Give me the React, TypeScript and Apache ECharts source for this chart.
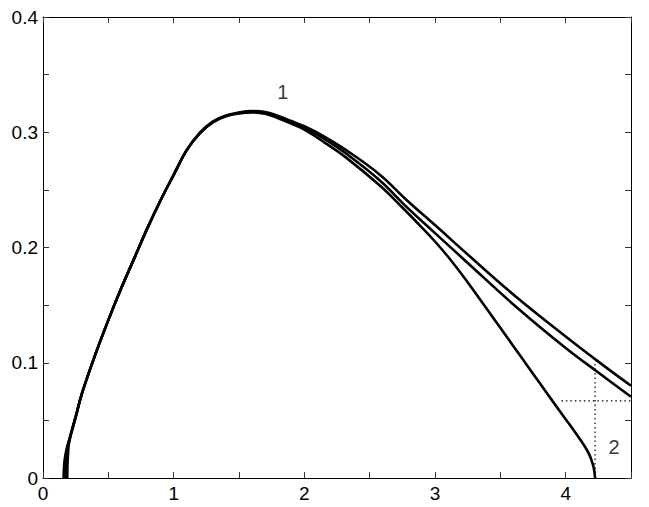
import React, { useEffect, useRef } from 'react';
import * as echarts from 'echarts';

// Curve 1 (two branches that stay above zero up to x = 4.5)
const curveUpper: number[][] = [
  [0.186, 0], [0.187, 0.01], [0.191, 0.02], [0.2, 0.031], [0.25, 0.053], [0.3, 0.074],
  [0.4, 0.107], [0.5, 0.137], [0.6, 0.165], [0.7, 0.191], [0.8, 0.217], [0.9, 0.241],
  [1.0, 0.263], [1.1, 0.2845], [1.2, 0.2995], [1.3, 0.3092], [1.4, 0.3145], [1.5, 0.3172],
  [1.6, 0.3183], [1.7, 0.3176], [1.8, 0.3142], [1.9, 0.3098], [2.0, 0.3052], [2.15, 0.2965],
  [2.32, 0.2845], [2.58, 0.263], [2.78, 0.2415], [3.0, 0.2195], [3.24, 0.195], [3.62, 0.1573],
  [4.0, 0.1228], [4.25, 0.101], [4.5, 0.08],
];
const curveMiddle: number[][] = [
  [0.172, 0], [0.173, 0.01], [0.179, 0.02], [0.2, 0.032], [0.25, 0.053], [0.3, 0.074],
  [0.4, 0.107], [0.5, 0.137], [0.6, 0.165], [0.7, 0.191], [0.8, 0.217], [0.9, 0.241],
  [1.0, 0.263], [1.1, 0.2845], [1.2, 0.2993], [1.3, 0.309], [1.4, 0.3142], [1.5, 0.3168],
  [1.6, 0.3178], [1.7, 0.3169], [1.8, 0.3133], [1.9, 0.3088], [2.0, 0.304], [2.15, 0.2945],
  [2.32, 0.2815], [2.58, 0.258], [2.78, 0.2355], [3.0, 0.2125], [3.24, 0.1877], [3.62, 0.1486],
  [4.0, 0.1128], [4.25, 0.0915], [4.5, 0.0705],
];
// Curve 2 (branch that returns to zero)
const curveLower: number[][] = [
  [0.158, 0], [0.16, 0.008], [0.166, 0.016], [0.18, 0.025], [0.2, 0.033], [0.25, 0.053],
  [0.3, 0.074], [0.4, 0.107], [0.5, 0.137], [0.6, 0.165], [0.7, 0.191], [0.8, 0.217],
  [0.9, 0.241], [1.0, 0.263], [1.1, 0.2845], [1.2, 0.299], [1.3, 0.3085], [1.4, 0.3138],
  [1.5, 0.3163], [1.6, 0.3172], [1.7, 0.3161], [1.8, 0.3122], [1.9, 0.3075], [2.0, 0.3022],
  [2.15, 0.2915], [2.32, 0.278], [2.58, 0.2535], [2.75, 0.2347], [2.9, 0.2173], [3.0, 0.2052],
  [3.1, 0.192], [3.2, 0.1775], [3.3, 0.162], [3.4, 0.1462], [3.5, 0.1303], [3.6, 0.1144],
  [3.7, 0.0985], [3.8, 0.0826], [3.9, 0.0667], [4.0, 0.051], [4.08, 0.0385], [4.14, 0.0285],
  [4.18, 0.0205], [4.205, 0.013], [4.218, 0.007], [4.225, 0],
];

// dotted guide lines
const guideVertical: number[][] = [[4.225, 0], [4.225, 0.0995]];
const guideHorizontal: number[][] = [[3.967, 0.067], [4.5, 0.067]];

// curve annotations
const annotations: { name: string; value: number[] }[] = [
  { name: '1', value: [1.835, 0.335] },
  { name: '2', value: [4.37, 0.027] },
];

const xTickLabels = ['0', '1', '2', '3', '4'];
const yTickLabels = ['0', '0.1', '0.2', '0.3', '0.4'];

const FONT = '"Liberation Sans", Arial, Helvetica, sans-serif';

export default function App() {
  const ref = useRef<HTMLDivElement>(null);

  useEffect(() => {
    if (!ref.current) return;
    const chart = echarts.init(ref.current, undefined, { renderer: 'svg' });

    const xLabel = (v: number) => {
      const r = Math.round(v);
      return Math.abs(v - r) < 1e-6 && xTickLabels[r] !== undefined ? xTickLabels[r] : '';
    };
    const yLabel = (v: number) => {
      const r = Math.round(v * 10);
      return Math.abs(v * 10 - r) < 1e-6 && yTickLabels[r] !== undefined ? yTickLabels[r] : '';
    };

    const axisCommon = {
      type: 'value' as const,
      axisLine: { show: true, onZero: false, lineStyle: { color: '#000', width: 1 } },
      axisTick: { show: true, inside: true, length: 6, lineStyle: { color: '#333', width: 1 } },
      splitLine: { show: false },
    };

    const lineSeries = (data: number[][]) => ({
      type: 'line' as const,
      data,
      xAxisIndex: 0,
      yAxisIndex: 0,
      showSymbol: false,
      symbol: 'none',
      smooth: 0.4,
      lineStyle: { color: '#000', width: 2.6 },
      z: 3,
    });

    chart.setOption({
      animation: false,
      backgroundColor: '#fff',
      grid: { left: 43, right: 18, top: 17, bottom: 29, containLabel: false },
      xAxis: [
        {
          ...axisCommon,
          position: 'bottom',
          min: 0,
          max: 4.5,
          interval: 0.5,
          axisLabel: { formatter: xLabel, color: '#000', fontSize: 19, fontFamily: FONT, margin: 6 },
        },
        {
          ...axisCommon,
          position: 'top',
          min: 0,
          max: 4.5,
          interval: 0.5,
          axisLabel: { show: false },
        },
      ],
      yAxis: [
        {
          ...axisCommon,
          position: 'left',
          min: 0,
          max: 0.4,
          interval: 0.05,
          axisLabel: { formatter: yLabel, color: '#000', fontSize: 19, fontFamily: FONT, margin: 5 },
        },
        {
          ...axisCommon,
          position: 'right',
          min: 0,
          max: 0.4,
          interval: 0.05,
          axisLabel: { show: false },
        },
      ],
      series: [
        lineSeries(curveUpper),
        lineSeries(curveMiddle),
        lineSeries(curveLower),
        {
          type: 'line',
          data: guideVertical,
          showSymbol: false,
          symbol: 'none',
          lineStyle: { color: '#000', width: 1.2, type: [1.5, 3] },
          z: 2,
        },
        {
          type: 'line',
          data: guideHorizontal,
          showSymbol: false,
          symbol: 'none',
          lineStyle: { color: '#000', width: 1.2, type: [1.5, 3] },
          z: 2,
        },
        {
          type: 'scatter',
          data: annotations,
          symbolSize: 0,
          silent: true,
          label: {
            show: true,
            position: 'inside',
            formatter: (p: any) => p.name,
            color: '#000',
            fontSize: 20,
            fontFamily: FONT,
          },
          z: 4,
        },
      ],
    });

    return () => chart.dispose();
  }, []);

  return (
    <div
      ref={ref}
      style={{ position: 'absolute', left: 0, top: 0, width: 649, height: 507, background: '#fff' }}
    />
  );
}
